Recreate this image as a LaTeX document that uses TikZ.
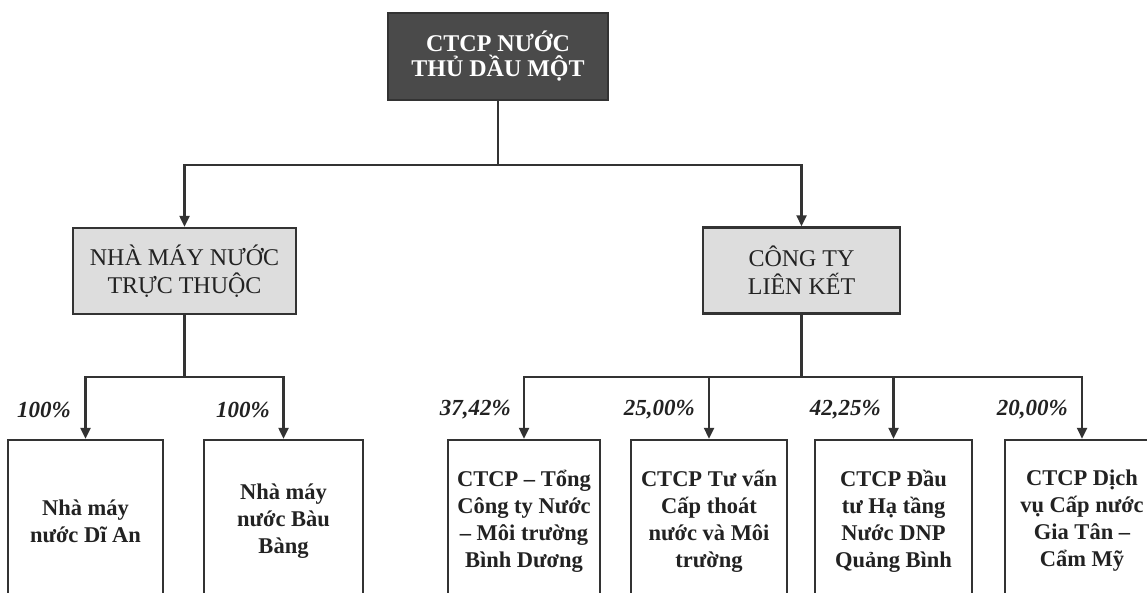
\documentclass[tikz,border=0pt]{standalone}
\usepackage{fontspec}
\setmainfont{Liberation Serif}
\usetikzlibrary{arrows.meta}
\definecolor{ln}{HTML}{333333}
\definecolor{dk}{HTML}{4A4A4A}
\definecolor{lg}{HTML}{DDDDDD}
\definecolor{tx}{HTML}{222222}
\tikzset{
 topbox/.style={draw=ln, line width=2.5pt, fill=dk, text=white, font=\fontsize{24}{25}\selectfont\bfseries, align=center, minimum width=220pt, minimum height=87pt, inner sep=0pt},
 grpbox/.style={draw=ln, line width=2.5pt, fill=lg, text=tx, font=\fontsize{24}{28}\selectfont, align=center, inner sep=0pt, minimum height=86pt},
 unitbox/.style={draw=ln, line width=2.5pt, fill=white, text=tx, font=\fontsize{22.5}{27}\selectfont\bfseries, align=center, inner sep=0pt, minimum height=162pt},
 conn/.style={draw=ln, line width=2.4pt},
 arr/.style={conn, -{Triangle[length=11pt,width=10pt]}},
 pct/.style={font=\fontsize{23}{23}\selectfont\bfseries\itshape, anchor=east, text=tx, inner sep=0pt},
}
\begin{document}
\begin{tikzpicture}[x=1pt,y=-1pt]
\useasboundingbox (0,0) rectangle (1147,592);
\clip (0,0) rectangle (1147,592);
\fill[white] (0,0) rectangle (1147,592);
% nodes
\node[topbox] (top) at (498,56.5) {CTCP NƯỚC\\THỦ DẦU MỘT};
\node[grpbox, minimum width=223pt] (nha) at (184.5,271) {NHÀ MÁY NƯỚC\\TRỰC THUỘC};
\node[grpbox, minimum width=197pt] (cty) at (801.5,270.5) {CÔNG TY\\LIÊN KẾT};
\node[unitbox, minimum width=155pt] (b1) at (85.5,521) {Nhà máy\\nước Dĩ An};
\node[unitbox, minimum width=159pt] (b2) at (283.5,521) {Nhà máy\\nước Bàu\\Bàng};
\node[unitbox, minimum width=152pt] (b3) at (524,521) {CTCP – Tổng\\Công ty Nước\\– Môi trường\\Bình Dương};
\node[unitbox, minimum width=156pt] (b4) at (709,521) {CTCP Tư vấn\\Cấp thoát\\nước và Môi\\trường};
\node[unitbox, minimum width=157pt] (b5) at (893.5,521) {CTCP Đầu\\tư Hạ tầng\\Nước DNP\\Quảng Bình};
\node[unitbox, minimum width=154pt] (b6) at (1082,521) {CTCP Dịch\\vụ Cấp nước\\Gia Tân –\\Cẩm Mỹ};
% junctions
\coordinate (j1) at (498,165);
\coordinate (j2) at (184.5,377);
\coordinate (j3) at (801.5,377);
% connectors
\draw[conn] (top.south) -- (j1);
\draw[arr] (j1) -| (nha.north);
\draw[arr] (j1) -| (cty.north);
\draw[conn] (nha.south) -- (j2);
\draw[arr] (j2) -| (b1.north);
\draw[arr] (j2) -| (b2.north);
\draw[conn] (cty.south) -- (j3);
\draw[arr] (j3) -| (b3.north);
\draw[arr] (j3) -| (b4.north);
\draw[arr] (j3) -| (b5.north);
\draw[arr] (j3) -| (b6.north);
% percentages
\node[pct] (p1) at (71,410) {100\%};
\node[pct] (p2) at (270,410) {100\%};
\node[pct] (p3) at (511,410) {37,42\%};
\node[pct] (p4) at (695,410) {25,00\%};
\node[pct] (p5) at (881,410) {42,25\%};
\node[pct] (p6) at (1068,410) {20,00\%};
\end{tikzpicture}
\end{document}
